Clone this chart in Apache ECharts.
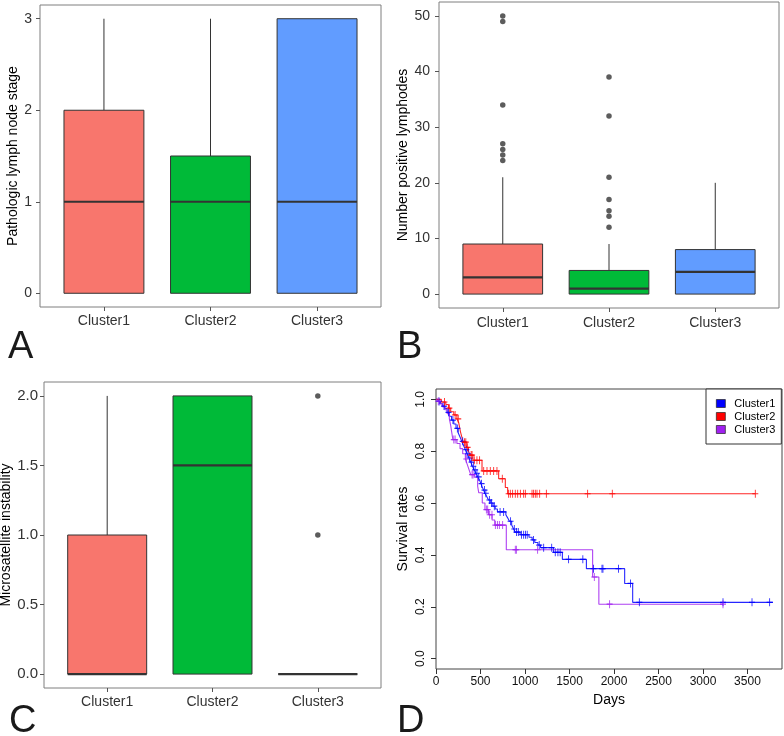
<!DOCTYPE html>
<html><head><meta charset="utf-8">
<script src="https://cdn.jsdelivr.net/npm/echarts@6/dist/echarts.min.js"></script>
<style>html,body{margin:0;padding:0;background:#fff}#c{width:784px;height:736px}</style>
</head><body><div id="c"></div>
<script>
// ---------- DATA ----------
const categories = ['Cluster1', 'Cluster2', 'Cluster3'];

// Panel A: Pathologic lymph node stage  [lowerWhisker, Q1, median, Q3, upperWhisker]
const stageBoxes = [[0, 0, 1, 2, 3], [0, 0, 1, 1.5, 3], [0, 0, 1, 3, 3]];
const stageTicks = [0, 1, 2, 3];

// Panel B: Number positive lymphodes
const lymphBoxes = [[0, 0, 3, 9, 21], [0, 0, 1, 4.25, 9], [0, 0, 4, 8, 20]];
const lymphOutliers1 = [24, 25, 26, 27, 34, 49, 50];
const lymphOutliers2 = [12, 14, 15, 17, 21, 32, 39];
const lymphOutliers3 = [];
const lymphTicks = [0, 10, 20, 30, 40, 50];

// Panel C: Microsatellite instability
const msiBoxes = [[0, 0, 0, 1, 2], [0, 0, 1.5, 2, 2], [0, 0, 0, 0, 0]];
const msiOutliers1 = [];
const msiOutliers2 = [];
const msiOutliers3 = [1, 2];
const msiTicks = [0, 0.5, 1, 1.5, 2];

// Panel D: Kaplan-Meier survival  [day, survival]
const cluster1Steps = [[0,1.0],[25,0.992],[50,0.983],[75,0.974],[100,0.965],[125,0.95],[150,0.935],[175,0.92],[200,0.905],[225,0.888],[250,0.87],[270,0.855],[290,0.838],[310,0.822],[330,0.806],[350,0.79],[370,0.774],[390,0.758],[410,0.742],[430,0.728],[450,0.715],[470,0.701],[490,0.688],[505,0.675],[520,0.662],[535,0.65],[550,0.638],[570,0.625],[590,0.612],[615,0.6],[640,0.588],[665,0.577],[690,0.566],[785,0.555],[805,0.543],[825,0.53],[850,0.515],[872,0.5],[890,0.488],[945,0.478],[1045,0.468],[1080,0.458],[1110,0.448],[1145,0.438],[1175,0.428],[1320,0.41],[1420,0.383],[1690,0.347],[2120,0.29],[2210,0.217],[3787,0.217]];
const cluster1Censored = [[35,0.992],[90,0.974],[140,0.95],[190,0.92],[240,0.888],[300,0.838],[340,0.806],[360,0.79],[380,0.774],[400,0.758],[420,0.742],[440,0.728],[460,0.715],[480,0.701],[512,0.675],[545,0.65],[560,0.638],[600,0.612],[625,0.6],[655,0.588],[720,0.566],[760,0.566],[838,0.53],[880,0.5],[905,0.488],[925,0.488],[960,0.478],[985,0.478],[1005,0.478],[1025,0.478],[1095,0.458],[1160,0.438],[1210,0.428],[1300,0.428],[1340,0.41],[1370,0.41],[1395,0.41],[1490,0.383],[1650,0.383],[1770,0.347],[1865,0.347],[1876,0.347],[2050,0.347],[2185,0.29],[2285,0.217],[3225,0.217],[3551,0.217],[3749,0.217]];
const cluster2Steps = [[0,1.0],[60,0.99],[110,0.98],[140,0.966],[165,0.952],[200,0.94],[235,0.925],[255,0.91],[275,0.875],[290,0.855],[305,0.835],[340,0.815],[365,0.8],[385,0.785],[415,0.765],[517,0.724],[704,0.694],[779,0.66],[805,0.636],[3588,0.636]];
const cluster2Censored = [[95,0.99],[150,0.966],[215,0.94],[250,0.925],[320,0.835],[335,0.835],[355,0.815],[395,0.785],[405,0.785],[430,0.765],[460,0.765],[490,0.765],[536,0.724],[573,0.724],[610,0.724],[648,0.724],[685,0.724],[745,0.694],[816,0.636],[835,0.636],[861,0.636],[891,0.636],[918,0.636],[948,0.636],[985,0.636],[1004,0.636],[1079,0.636],[1097,0.636],[1116,0.636],[1135,0.636],[1165,0.636],[1240,0.636],[1704,0.636],[1981,0.636],[3588,0.636]];
const cluster3Steps = [[0,1.0],[15,0.993],[40,0.983],[70,0.972],[100,0.96],[125,0.945],[150,0.925],[165,0.9],[178,0.87],[190,0.845],[235,0.83],[270,0.81],[300,0.79],[330,0.77],[350,0.75],[370,0.73],[390,0.71],[430,0.70],[468,0.665],[480,0.64],[520,0.60],[550,0.575],[590,0.555],[630,0.535],[660,0.515],[790,0.42],[1760,0.315],[1830,0.21],[3225,0.21]];
const cluster3Censored = [[25,0.993],[200,0.845],[215,0.845],[340,0.77],[405,0.71],[416,0.71],[566,0.575],[581,0.575],[603,0.555],[629,0.555],[667,0.515],[690,0.515],[712,0.515],[749,0.515],[891,0.42],[903,0.42],[1142,0.42],[1779,0.315],[1951,0.21],[3225,0.21]];
const dayTicks = [0, 500, 1000, 1500, 2000, 2500, 3000, 3500];
const survTicks = [0, 0.2, 0.4, 0.6, 0.8, 1.0];

// ---------- STYLE ----------
const FONT = '"Liberation Sans", Arial, sans-serif';
const boxColors = ['#F8766D', '#00BA38', '#619CFF'];
const kmColors = ['#0000FF', '#FF0000', '#A020F0'];
const catPos = [1, 2, 3];

function boxRender(params, api) {
  const x = api.value(0);
  const lo = api.value(1), q1 = api.value(2), med = api.value(3), q3 = api.value(4), hi = api.value(5);
  const w = api.size([0.75, 0])[0];
  const pLo = api.coord([x, lo]), pQ1 = api.coord([x, q1]), pMed = api.coord([x, med]),
        pQ3 = api.coord([x, q3]), pHi = api.coord([x, hi]);
  const cx = pMed[0], left = cx - w / 2;
  const ls = { stroke: '#333333', lineWidth: 1 };
  return { type: 'group', children: [
    { type: 'line', shape: { x1: cx, y1: pHi[1], x2: cx, y2: pQ3[1] }, style: ls },
    { type: 'line', shape: { x1: cx, y1: pQ1[1], x2: cx, y2: pLo[1] }, style: ls },
    { type: 'rect', shape: { x: left, y: pQ3[1], width: w, height: pQ1[1] - pQ3[1] },
      style: { fill: boxColors[params.dataIndex], stroke: '#333333', lineWidth: 1 } },
    { type: 'line', shape: { x1: left, y1: pMed[1], x2: left + w, y2: pMed[1] },
      style: { stroke: '#333333', lineWidth: 2.2 } }
  ]};
}

function boxXAxis(gi, fs, mg) {
  return { type: 'value', gridIndex: gi, min: 0.4, max: 3.6,
    axisLine: { show: false, onZero: false }, splitLine: { show: false },
    axisTick: { show: true, customValues: catPos, length: 4, lineStyle: { color: '#555' } },
    axisLabel: { customValues: catPos, formatter: v => categories[Math.round(v) - 1],
      fontSize: fs, color: '#333', margin: mg, fontFamily: FONT } };
}
function boxYAxis(gi, min, max, ticks, name, gap, fmt, fs, mg) {
  return { type: 'value', gridIndex: gi, min: min, max: max, name: name,
    nameLocation: 'middle', nameGap: gap,
    nameTextStyle: { fontSize: 14, color: '#000', fontFamily: FONT },
    axisLine: { show: false, onZero: false }, splitLine: { show: false },
    axisTick: { show: true, customValues: ticks, length: 4, lineStyle: { color: '#555' } },
    axisLabel: { customValues: ticks, formatter: fmt, fontSize: fs, color: '#333', margin: mg, fontFamily: FONT } };
}
function boxSeries(gi, boxes) {
  return { type: 'custom', xAxisIndex: gi, yAxisIndex: gi, renderItem: boxRender,
    data: boxes.map((b, i) => [catPos[i]].concat(b)), encode: { x: 0, y: [1, 2, 3, 4, 5] }, z: 2 };
}
function outlierSeries(gi, lists) {
  const d = [];
  lists.forEach((l, i) => l.forEach(v => d.push([catPos[i], v])));
  return { type: 'scatter', xAxisIndex: gi, yAxisIndex: gi, data: d, symbol: 'circle',
    symbolSize: 5.5, itemStyle: { color: '#333333' }, z: 3 };
}
const plus = 'path://M5,0L5,12M0,6L10,6';
function kmLine(name, steps, color) {
  return { type: 'line', name: name, xAxisIndex: 3, yAxisIndex: 3, step: 'end', data: steps,
    showSymbol: false, color: color, lineStyle: { width: 1.1, color: color, opacity: 0.85 }, z: 3 };
}
function kmCens(name, pts, color) {
  return { type: 'scatter', name: name, xAxisIndex: 3, yAxisIndex: 3, data: pts, symbol: plus,
    symbolSize: [6, 8], color: color,
    itemStyle: { color: 'transparent', borderColor: color, borderWidth: 1, opacity: 0.85 }, z: 4 };
}

const gridStyle = { show: true, borderColor: '#7f7f7f', borderWidth: 1, backgroundColor: 'transparent', outerBoundsMode: 'none', containLabel: false };

const option = {
  animation: false,
  backgroundColor: '#fff',
  textStyle: { fontFamily: FONT },
  grid: [
    Object.assign({ left: 40, top: 5, width: 341, height: 302 }, gridStyle),
    Object.assign({ left: 439, top: 2, width: 340, height: 306 }, gridStyle),
    Object.assign({ left: 44, top: 382, width: 337, height: 306 }, gridStyle),
    Object.assign({}, gridStyle, { left: 436, top: 389, width: 346, height: 280, borderColor: '#444' })
  ],
  xAxis: [
    boxXAxis(0, 14, 7), boxXAxis(1, 14, 8), boxXAxis(2, 14, 7),
    { type: 'value', gridIndex: 3, min: 0, max: 3888, name: 'Days', nameLocation: 'middle', nameGap: 24,
      nameTextStyle: { fontSize: 14, color: '#000', fontFamily: FONT },
      axisLine: { show: false, onZero: false }, splitLine: { show: false },
      axisTick: { show: true, customValues: dayTicks, length: 5, lineStyle: { color: '#333' } },
      axisLabel: { customValues: dayTicks, formatter: v => String(v), fontSize: 12, color: '#111', margin: 7, fontFamily: FONT } }
  ],
  yAxis: [
    boxYAxis(0, -0.15, 3.15, stageTicks, 'Pathologic lymph node stage', 18, v => String(v), 14, 8),
    boxYAxis(1, -2.5, 52.5, lymphTicks, 'Number positive lymphodes', 27, v => String(v), 14, 9),
    boxYAxis(2, -0.1, 2.1, msiTicks, 'Microsatellite instability', 30, v => v.toFixed(1), 15, 6),
    { type: 'value', gridIndex: 3, min: -0.04, max: 1.04, name: 'Survival rates', nameLocation: 'middle', nameGap: 26,
      nameTextStyle: { fontSize: 14, color: '#000', fontFamily: FONT },
      axisLine: { show: false, onZero: false }, splitLine: { show: false },
      axisTick: { show: true, customValues: survTicks, length: 5, lineStyle: { color: '#333' } },
      axisLabel: { customValues: survTicks, formatter: v => v.toFixed(1), rotate: 90, fontSize: 12,
        color: '#111', margin: 9, fontFamily: FONT } }
  ],
  legend: {
    data: categories, orient: 'vertical', left: 706, top: 389, icon: 'rect',
    itemWidth: 9, itemHeight: 8, itemGap: 2, padding: [9, 6, 9, 10],
    borderColor: '#333', borderWidth: 1, backgroundColor: '#fff',
    textStyle: { fontSize: 11, color: '#000', fontFamily: FONT, padding: [0, 0, 0, 4] },
    itemStyle: { borderColor: '#222', borderWidth: 0.7 }
  },
  graphic: [
    { type: 'text', left: 8, top: 329, style: { text: 'A', font: '38px ' + FONT, fill: '#1a1a1a' } },
    { type: 'text', left: 397, top: 329, style: { text: 'B', font: '38px ' + FONT, fill: '#1a1a1a' } },
    { type: 'text', left: 9, top: 703, style: { text: 'C', font: '38px ' + FONT, fill: '#1a1a1a' } },
    { type: 'text', left: 397, top: 703, style: { text: 'D', font: '38px ' + FONT, fill: '#1a1a1a' } }
  ],
  series: [
    boxSeries(0, stageBoxes),
    boxSeries(1, lymphBoxes), outlierSeries(1, [lymphOutliers1, lymphOutliers2, lymphOutliers3]),
    boxSeries(2, msiBoxes), outlierSeries(2, [msiOutliers1, msiOutliers2, msiOutliers3]),
    kmLine('Cluster1', cluster1Steps, kmColors[0]),
    kmLine('Cluster2', cluster2Steps, kmColors[1]),
    kmLine('Cluster3', cluster3Steps, kmColors[2]),
    kmCens('Cluster1', cluster1Censored, kmColors[0]),
    kmCens('Cluster2', cluster2Censored, kmColors[1]),
    kmCens('Cluster3', cluster3Censored, kmColors[2])
  ]
};
const chart = echarts.init(document.getElementById('c'));
chart.setOption(option);
</script></body></html>
